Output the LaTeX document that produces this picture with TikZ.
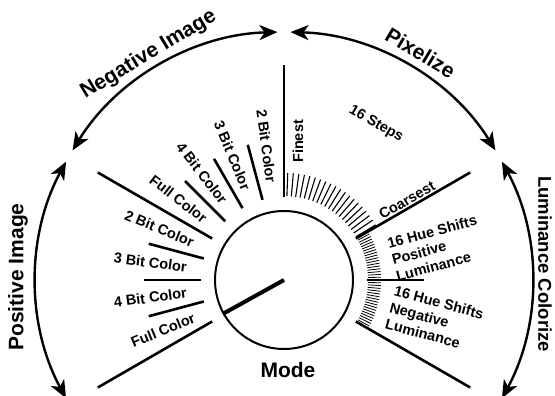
\documentclass[tikz,border=0pt]{standalone}
\usepackage{fontspec}
\setmainfont{Liberation Sans}
\usetikzlibrary{arrows.meta,positioning}

\begin{document}
\begin{tikzpicture}[
  x=1pt,y=1pt,
  font=\bfseries\fontsize{14.5}{17}\selectfont,
  spoke/.style={line width=2.6pt},
  finetick/.style={line width=1.1pt},
  lumtick/.style={line width=0.8pt},
  modearc/.style={{Stealth[length=18pt,width=15pt,inset=5pt]}-{Stealth[length=18pt,width=15pt,inset=5pt]},line width=2.4pt},
  big/.style={inner sep=0pt,font=\bfseries\fontsize{21}{24}\selectfont},
  lbl/.style={inner sep=0pt,align=left}
]
\useasboundingbox (-284,-116) rectangle (271,280);
\node[draw,circle,line width=2pt,minimum size=138pt,inner sep=0pt] (knob) at (0,0) {};
\draw[line width=4pt] (knob.center) -- (knob.209);
\node[big,below=12pt of knob,xshift=4pt] (mode) {Mode};

\foreach \a in {90,150,210,30,-30} \draw[spoke] (\a:83) -- (\a:215);
\foreach \a in {105,120,135,165,180,195,0} \draw[spoke] (\a:83) -- (\a:140);
\foreach \a in {88,85,...,31} \draw[finetick] (\a:84) -- (\a:107);
\foreach \i in {1,...,17} {
  \draw[lumtick] ({\i*30/18}:84) -- ({\i*30/18}:97);
  \draw[lumtick] ({-\i*30/18}:84) -- ({-\i*30/18}:97);
}

\node[lbl,anchor=east,rotate=-82.5] (neg2) at (97.5:98) {2 Bit Color};
\node[lbl,anchor=east,rotate=-67.5] (neg3) at (112.5:98) {3 Bit Color};
\node[lbl,anchor=east,rotate=-52.5] (neg4) at (127.5:98) {4 Bit Color};
\node[lbl,anchor=east,rotate=-37.5] (negfull) at (142.5:99) {Full Color};
\node[lbl,anchor=east,rotate=-22.5] (pos2) at (157.5:98) {2 Bit Color};
\node[lbl,anchor=east,rotate=-7.5] (pos3) at (172.5:98) {3 Bit Color};
\node[lbl,anchor=east,rotate=7.5] (pos4) at (187.5:98) {4 Bit Color};
\node[lbl,anchor=east,rotate=22.5] (posfull) at (202.5:97) {Full Color};

\node[lbl,anchor=west,rotate=90] (finest) at (14,117) {Finest};
\node[lbl,rotate=-30] (steps) at (92,156) {16 Steps};
\node[lbl,rotate=30] (coarsest) at (123,80) {Coarsest};
\node[lbl,anchor=west,rotate=15] (lumpos) at (108,20) {16 Hue Shifts\\Positive\\Luminance};
\node[lbl,anchor=west,rotate=-15] (lumneg) at (106,-27) {16 Hue Shifts\\Negative\\Luminance};

\draw[modearc] (208.5:248) arc[start angle=208.5,end angle=151.5,radius=248];
\draw[modearc] (148.5:248) arc[start angle=148.5,end angle=91.5,radius=248];
\draw[modearc] (88.5:248) arc[start angle=88.5,end angle=31.5,radius=248];
\draw[modearc] (28.5:248) arc[start angle=28.5,end angle=-28.5,radius=248];

\node[big,rotate=90] (posimg) at (-266,3) {Positive Image};
\node[big,rotate=31] (negimg) at (121:263) {Negative Image};
\node[big,rotate=-31] (pixel) at (59:265) {Pixelize};
\node[big,rotate=-90,font=\bfseries\fontsize{18.5}{22}\selectfont] (lumcol) at (261,16) {Luminance Colorize};
\end{tikzpicture}
\end{document}
